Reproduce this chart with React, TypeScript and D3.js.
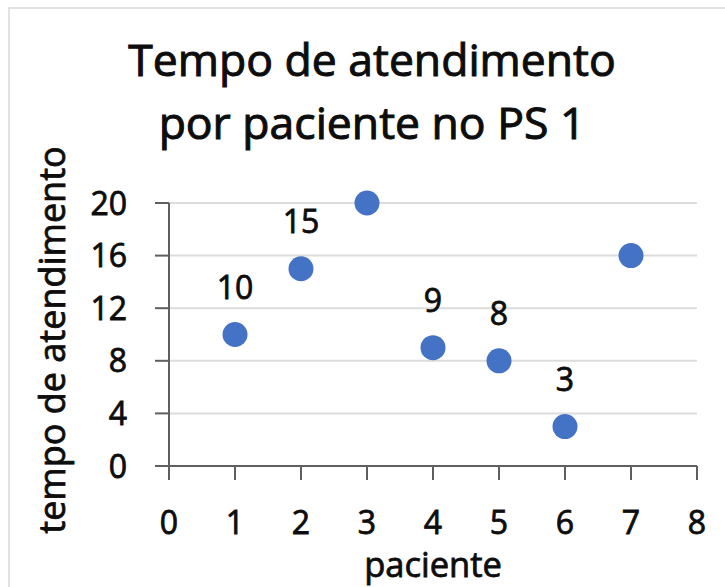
import React from "react";
import * as d3 from "d3";

const pacientes = [1, 2, 3, 4, 5, 6, 7];
const tempos = [10, 15, 20, 9, 8, 3, 16];
const rotulos: (string | null)[] = ["10", "15", null, "9", "8", "3", null];
const xTicks = [0, 1, 2, 3, 4, 5, 6, 7, 8];
const yTicks = [0, 4, 8, 12, 16, 20];
const titleLines = ["Tempo de atendimento", "por paciente no PS 1"];
const xTitle = "paciente";
const yTitle = "tempo de atendimento";

const FONT = "'Open Sans', 'DejaVu Sans', sans-serif";

export default function App() {
  const x = d3.scaleLinear().domain([0, 8]).range([169, 697]);
  const y = d3.scaleLinear().domain([0, 20]).range([466, 203]);
  const axisColor = "#5f5f5f";
  const gridColor = "#dcdcdc";
  const ink = "#0d0d0d";
  const tp = { fill: ink, stroke: ink, strokeWidth: 0.8 };
  return (
    <svg
      width={725}
      height={587}
      style={{ position: "absolute", left: 0, top: 0, background: "#fff" }}
      fontFamily={FONT}
      fontWeight={400}
    >
      <rect x={0} y={0} width={725} height={587} fill="#fff" />
      <rect x={9} y={8} width={900} height={800} fill="none" stroke="#d9d9d9" strokeWidth={1.5} />
      {titleLines.map((t, i) => (
        <text key={i} x={372} y={76 + i * 63} textAnchor="middle" fontSize={44.5} {...tp} strokeWidth={1}>
          {t}
        </text>
      ))}
      {yTicks.filter((v) => v > 0).map((v) => (
        <line key={"g" + v} x1={x(0)} x2={x(8)} y1={y(v)} y2={y(v)} stroke={gridColor} strokeWidth={2} />
      ))}
      {/* y axis */}
      <line x1={x(0)} x2={x(0)} y1={y(20)} y2={y(0) + 14} stroke={axisColor} strokeWidth={2} />
      {yTicks.map((v) => (
        <g key={"yt" + v}>
          <line x1={x(0) - 14} x2={x(0)} y1={y(v)} y2={y(v)} stroke={axisColor} strokeWidth={2} />
          <text x={127} y={y(v)} dy="0.36em" textAnchor="end" fontSize={32} {...tp}>
            {v}
          </text>
        </g>
      ))}
      {/* x axis */}
      <line x1={x(0) - 14} x2={x(8)} y1={y(0)} y2={y(0)} stroke={axisColor} strokeWidth={2} />
      {xTicks.map((v) => (
        <g key={"xt" + v}>
          <line x1={x(v)} x2={x(v)} y1={y(0)} y2={y(0) + 14} stroke={axisColor} strokeWidth={2} />
          <text x={x(v)} y={534} textAnchor="middle" fontSize={32} {...tp}>
            {v}
          </text>
        </g>
      ))}
      <text x={433} y={577} textAnchor="middle" fontSize={34.5} {...tp}>
        {xTitle}
      </text>
      <text
        transform={`translate(65,${340}) rotate(-90)`}
        textAnchor="middle"
        fontSize={36}
        {...tp}
      >
        {yTitle}
      </text>
      {pacientes.map((p, i) => (
        <circle key={"c" + i} cx={x(p)} cy={y(tempos[i])} r={12.5} fill="#4472C4" />
      ))}
      {pacientes.map((p, i) =>
        rotulos[i] ? (
          <text key={"l" + i} x={x(p)} y={y(tempos[i]) - 36} textAnchor="middle" fontSize={32} {...tp}>
            {rotulos[i]}
          </text>
        ) : null
      )}
    </svg>
  );
}
